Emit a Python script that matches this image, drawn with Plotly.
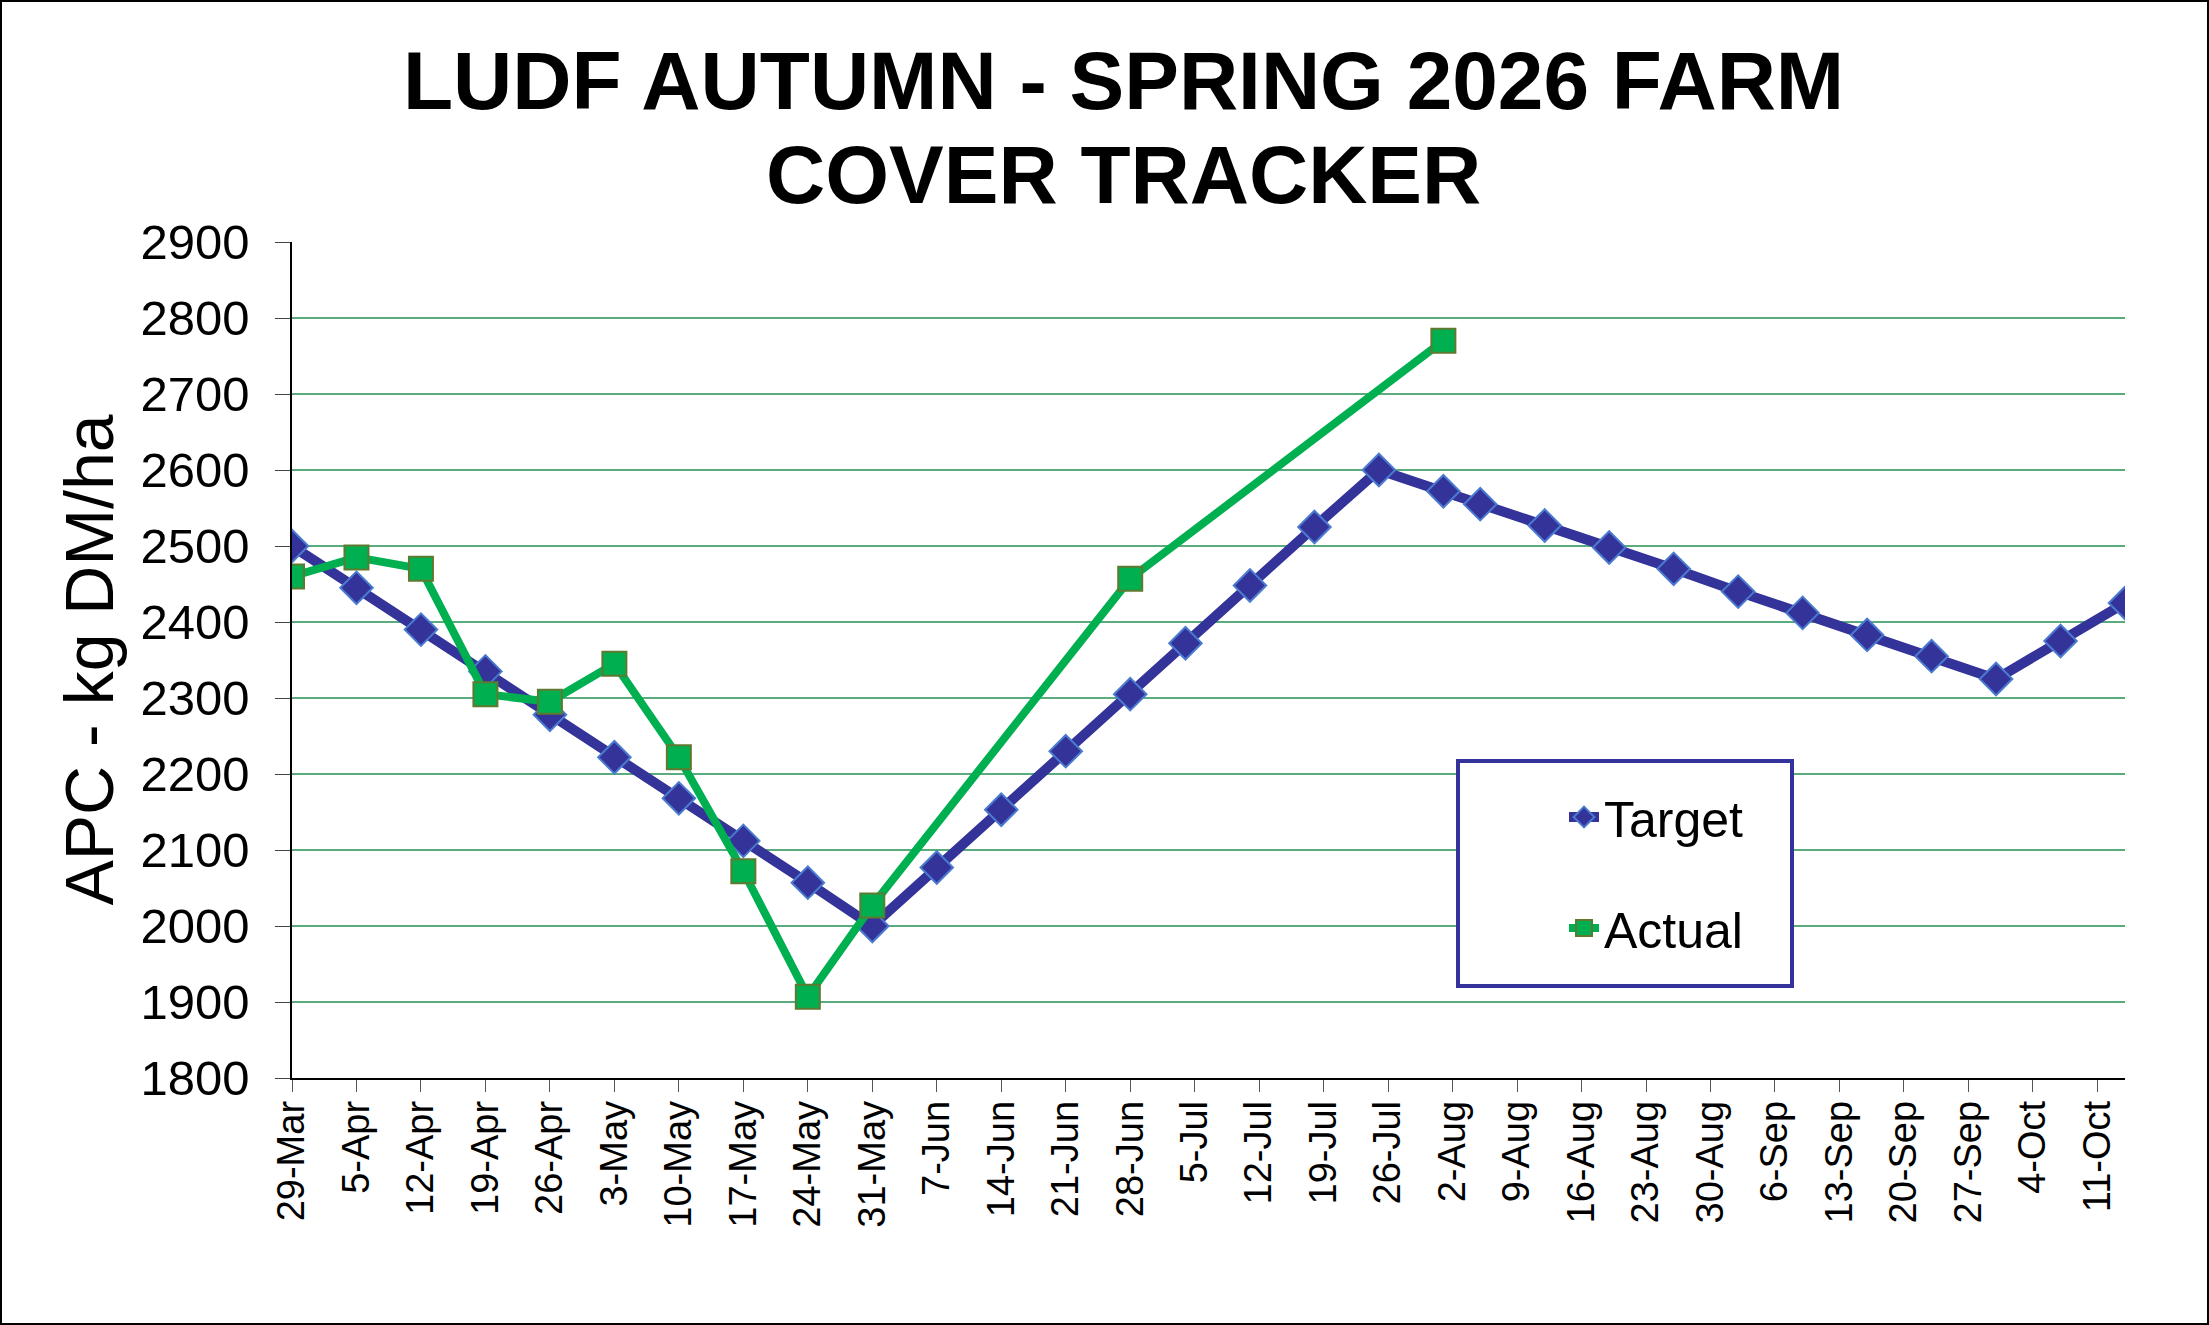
import plotly.graph_objects as go

# weekly pasture cover - target plan
target_dates = ["2026-03-29", "2026-04-05", "2026-04-12", "2026-04-19", "2026-04-26",
                "2026-05-03", "2026-05-10", "2026-05-17", "2026-05-24", "2026-05-31",
                "2026-06-07", "2026-06-14", "2026-06-21", "2026-06-28", "2026-07-04",
                "2026-07-11", "2026-07-18", "2026-07-25", "2026-08-01", "2026-08-05",
                "2026-08-12", "2026-08-19", "2026-08-26", "2026-09-02", "2026-09-09",
                "2026-09-16", "2026-09-23", "2026-09-30", "2026-10-07", "2026-10-14"]
target_cover = [2500, 2445, 2390, 2335, 2278, 2222, 2168, 2112, 2057, 2000,
                2077, 2153, 2230, 2305, 2372, 2448, 2525, 2600, 2572, 2555,
                2527, 2498, 2470, 2440, 2412, 2383, 2355, 2325, 2375, 2425]

# measured farm cover so far
actual_dates = ["2026-03-29", "2026-04-05", "2026-04-12", "2026-04-19", "2026-04-26",
                "2026-05-03", "2026-05-10", "2026-05-17", "2026-05-24", "2026-05-31",
                "2026-06-28", "2026-08-01"]
actual_cover = [2460, 2485, 2470, 2305, 2295, 2345, 2222, 2072, 1907, 2027, 2457, 2770]

title_lines = ["LUDF AUTUMN - SPRING 2026 FARM", "COVER TRACKER"]

FONT = "Liberation Sans, Arial, sans-serif"
W, H = 2209, 1325
ML, MR, MT, MB = 292, 84, 242, 247
PW, PH = W - ML - MR, H - MT - MB

fig = go.Figure()

fig.add_trace(go.Scatter(
    x=target_dates, y=target_cover, name="Target", mode="lines+markers",
    legendgroup="t",
    line=dict(color="#333399", width=10),
    marker=dict(symbol="diamond", size=25, color="#333399",
                line=dict(color="#4a7bd0", width=2)),
))
fig.add_trace(go.Scatter(
    x=actual_dates, y=actual_cover, name="Actual", mode="lines+markers",
    legendgroup="a",
    line=dict(color="#00b050", width=8),
    marker=dict(symbol="square", size=24, color="#00b050",
                line=dict(color="#5f7a30", width=2)),
))

fig.update_xaxes(
    type="date", range=["2026-03-29", "2026-10-14"],
    tick0="2026-03-29", dtick=7 * 86400000, tickformat="%-d-%b",
    tickangle=-90, tickfont=dict(family=FONT, size=38, color="black"),
    ticks="outside", ticklen=12, tickcolor="#555555", ticklabelstandoff=-6,
    showline=True, linecolor="black", linewidth=1.5,
    showgrid=False, zeroline=False,
)
fig.update_yaxes(
    range=[1800, 2900], dtick=100,
    tickfont=dict(family=FONT, size=49, color="black"),
    ticks="outside", ticklen=15, tickcolor="#444444", ticklabelstandoff=16,
    showline=True, linecolor="black", linewidth=1.5,
    showgrid=True, gridcolor="#5aab7e", gridwidth=1.5, zeroline=False,
    title=dict(text="APC - kg DM/ha", font=dict(family=FONT, size=68, color="black"),
               standoff=5),
)

annotations = []
for i, line in enumerate(title_lines):
    annotations.append(dict(
        text="<b>" + line + "</b>", xref="paper", yref="paper",
        x=0.4534, y=1 + (242 - (80 + 95 * i)) / PH,
        xanchor="center", yanchor="middle", showarrow=False,
        font=dict(family=FONT, size=82, color="black"),
    ))

shapes = [
    # legend box
    dict(type="rect", xref="paper", yref="paper",
         x0=(1458 - ML) / PW, x1=(1792 - ML) / PW,
         y0=(H - MB - 986) / PH, y1=(H - MB - 761) / PH,
         line=dict(color="#333399", width=4), fillcolor="white", layer="above"),
    # outer chart border
    dict(type="rect", xref="paper", yref="paper",
         x0=-(ML - 1) / PW, x1=1 + (MR - 1) / PW,
         y0=-(MB - 1) / PH, y1=1 + (MT - 1) / PH,
         line=dict(color="black", width=2)),
]

fig.update_layout(
    width=W, height=H,
    margin=dict(l=ML, r=MR, t=MT, b=MB),
    paper_bgcolor="white", plot_bgcolor="white",
    font=dict(family=FONT, color="black"),
    annotations=annotations, shapes=shapes,
    showlegend=True,
    legend=dict(
        x=(1564 - ML) / PW, y=(H - MB - 778) / PH, xanchor="left", yanchor="top",
        font=dict(family=FONT, size=50, color="black"),
        bgcolor="rgba(0,0,0,0)", borderwidth=0,
        tracegroupgap=43, traceorder="grouped",
    ),
)

# drop the default page margin so the chart sits at the top-left corner
fig.write_html("out.html", config={"displayModeBar": False},
               post_script="document.body.style.margin='0';")
